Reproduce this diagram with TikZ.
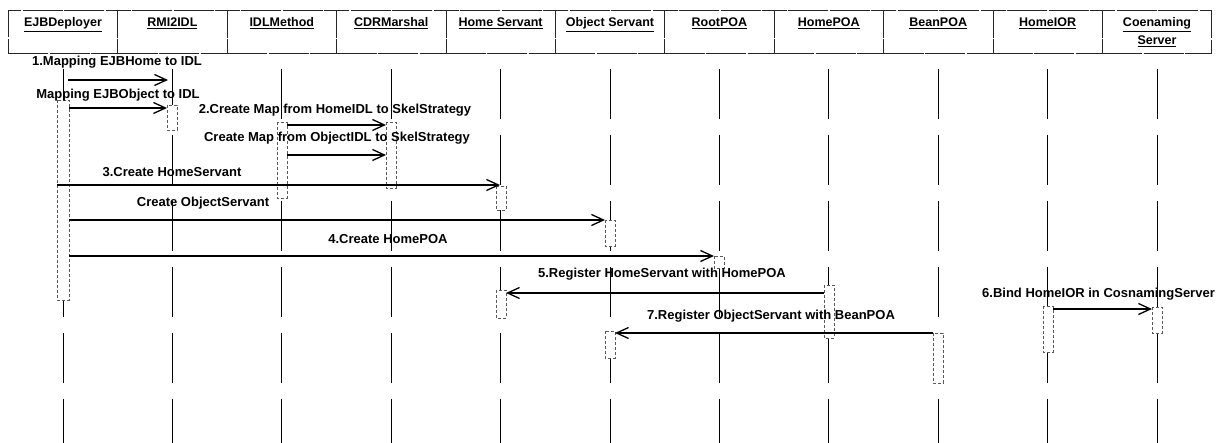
\documentclass[tikz,border=0pt]{standalone}
\usepackage{fontspec}
\setmainfont{Liberation Sans}
\usetikzlibrary{arrows.meta}
\begin{document}
\begin{tikzpicture}[x=1pt,y=-1pt,
  hdr/.style={draw=black!85, line width=0.6pt, dash pattern=on 40pt off 1.5pt,
    minimum width=109.4pt, minimum height=43pt, inner sep=0pt, anchor=north},
  hname/.style={font=\fontsize{12.5}{18}\selectfont\bfseries, align=center, anchor=north, inner sep=0pt},
  life/.style={line width=1pt, black, dash pattern=on 50pt off 16pt},
  act/.style={draw=black!65, line width=0.6pt, densely dashed, fill=white},
  msg/.style={line width=1.1pt, -{Straight Barb[length=12pt,width=11pt,line width=1.3pt]}},
  lbl/.style={font=\fontsize{13}{15}\selectfont\bfseries, inner sep=0pt},
]
\useasboundingbox (0,0) rectangle (1220,443);
\fill[white] (0,0) rectangle (1220,443);
\coordinate (bot) at (0,443);

% header boxes and lifelines
\foreach \i/\x in {1/63,2/172.4,3/281.8,4/391.2,5/500.6,6/610,7/719.4,8/828.8,9/938.2,10/1047.6,11/1157}{
  \node[hdr] (h\i) at (\x,10) {};
  \draw[life] ([yshift=-15pt]h\i.south) -- (h\i.south |- bot);
}
\node[hname] (n1) at (h1.north |- 0,17.5) {\underline{EJBDeployer}};
\node[hname] (n2) at (h2.north |- 0,17.5) {\underline{RMI2IDL}};
\node[hname] (n3) at (h3.north |- 0,17.5) {\underline{IDLMethod}};
\node[hname] (n4) at (h4.north |- 0,17.5) {\underline{CDRMarshal}};
\node[hname] (n5) at (h5.north |- 0,17.5) {\underline{Home Servant}};
\node[hname] (n6) at (h6.north |- 0,17.5) {\underline{Object Servant}};
\node[hname] (n7) at (h7.north |- 0,17.5) {\underline{RootPOA}};
\node[hname] (n8) at (h8.north |- 0,17.5) {\underline{HomePOA}};
\node[hname] (n9) at (h9.north |- 0,17.5) {\underline{BeanPOA}};
\node[hname] (n10) at (h10.north |- 0,17.5) {\underline{HomeIOR}};
\node[hname] (n11) at (h11.north |- 0,17.5) {\underline{Coenaming}\\\underline{Server}};

% activations
\draw[act] (57,100) rectangle (69,300);
\draw[act] (167,105) rectangle (177,130);
\draw[act] (277,122) rectangle (287,198);
\draw[act] (386,122) rectangle (396,188);
\draw[act] (496,186) rectangle (506,210);
\draw[act] (496,290) rectangle (506,318);
\draw[act] (605,220) rectangle (615,246);
\draw[act] (605,331) rectangle (615,358);
\draw[act] (714,256) rectangle (724,268);
\draw[act] (824,285) rectangle (834,338);
\draw[act] (933,333) rectangle (943,383);
\draw[act] (1043,306) rectangle (1053,352);
\draw[act] (1152,307) rectangle (1162,333);

% message end points
\coordinate (s1) at (68,80);    \coordinate (e1) at (168,80);
\coordinate (s2) at (69,108);   \coordinate (e2) at (167,108);
\coordinate (s3) at (287,125);  \coordinate (e3) at (386,125);
\coordinate (s4) at (287,155);  \coordinate (e4) at (386,155);
\coordinate (s5) at (57,185);   \coordinate (e5) at (500,185);
\coordinate (s6) at (69,220);   \coordinate (e6) at (605,220);
\coordinate (s7) at (69,256);   \coordinate (e7) at (714,256);
\coordinate (s8) at (824,293);  \coordinate (e8) at (506,293);
\coordinate (s9) at (1053,309); \coordinate (e9) at (1152,309);
\coordinate (s10) at (933,333); \coordinate (e10) at (615,333);

\foreach \k in {1,...,10}{ \draw[msg] (s\k) -- (e\k); }

% labels
\node[lbl] (t1) at (117,62) {1.Mapping EJBHome to IDL};
\node[lbl] (t2) at (118,95) {Mapping EJBObject to IDL};
\node[lbl] (t3) at (335,110) {2.Create Map from HomeIDL to SkelStrategy};
\node[lbl] (t4) at (337,138) {Create Map from ObjectIDL to SkelStrategy};
\node[lbl] (t5) at (172,172) {3.Create HomeServant};
\node[lbl] (t6) at (203,203) {Create ObjectServant};
\node[lbl] (t7) at (388,239) {4.Create HomePOA};
\node[lbl] (t8) at (662,274) {5.Register HomeServant with HomePOA};
\node[lbl, anchor=west] (t9) at (982,294) {6.Bind HomeIOR in CosnamingServer};
\node[lbl] (t10) at (771,316) {7.Register ObjectServant with BeanPOA};
\end{tikzpicture}
\end{document}
